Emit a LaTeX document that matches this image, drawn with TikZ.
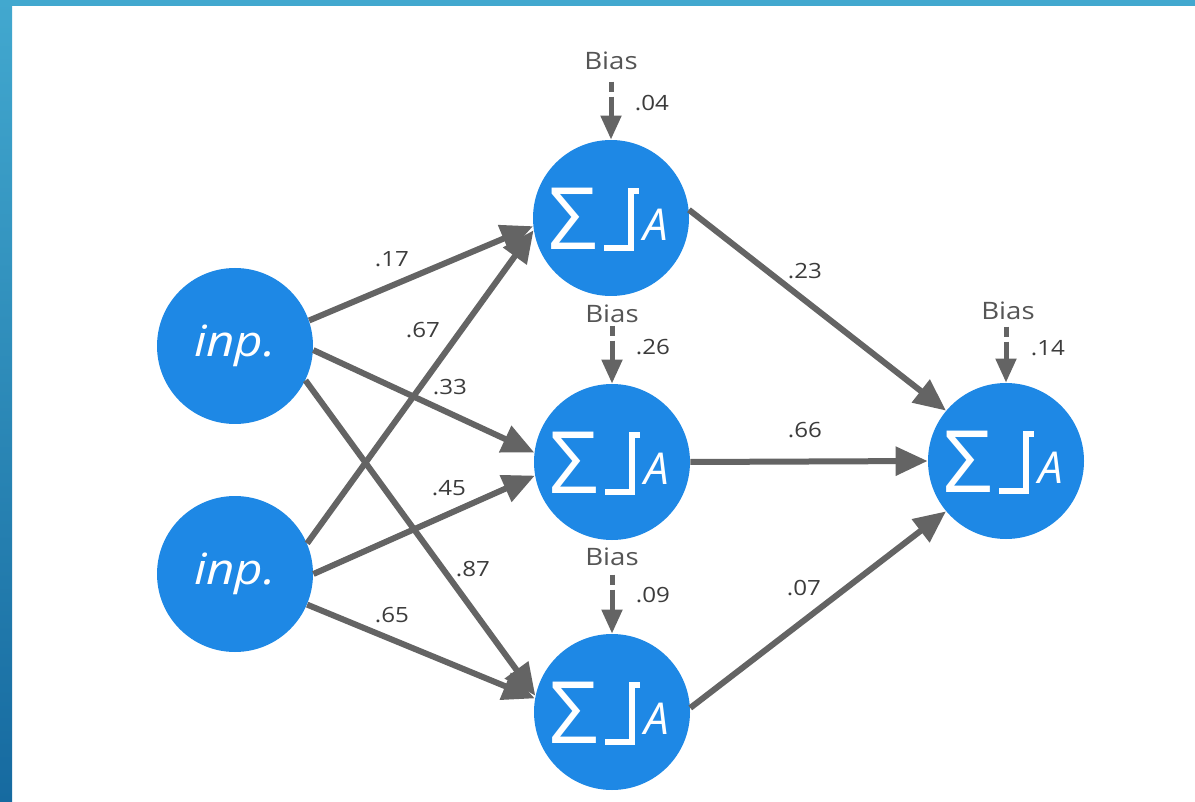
\documentclass[tikz,border=0pt]{standalone}
\usepackage{fontspec}
\setmainfont{Open Sans}
\newfontfamily\lblfont[FakeStretch=1.15]{Open Sans}
\usetikzlibrary{arrows.meta,calc}
\definecolor{nodeblue}{RGB}{30,136,229}
\definecolor{edgegray}{RGB}{100,100,100}
\definecolor{txtgray}{RGB}{60,60,60}
\definecolor{biasgray}{RGB}{85,85,85}
\definecolor{bartop}{RGB}{66,168,207}
\definecolor{barbot}{RGB}{22,106,160}
\tikzset{
  neu/.style={circle,fill=nodeblue,minimum size=78pt,inner sep=0pt},
  inptxt/.style={text=white,font=\lblfont\fontsize{21.5}{22}\selectfont\itshape},
  sig/.style={text=white,inner sep=0pt,font=\fontsize{43}{43}\selectfont},
  actA/.style={text=white,inner sep=0pt,font=\fontsize{22}{22}\selectfont\itshape},
  stepfn/.style={white,line width=3pt,line join=miter},
  wire/.style={edgegray,line width=3pt,-{Triangle[length=16pt,width=14pt]}},
  biasarr/.style={edgegray,line width=2.5pt,dash pattern=on 5pt off 2.5pt on 200pt,-{Triangle[length=12pt,width=10pt]}},
  biaslbl/.style={text=biasgray,inner sep=0pt,font=\lblfont\fontsize{12}{12}\selectfont},
  wlbl/.style={text=txtgray,inner sep=0pt,font=\lblfont\fontsize{10.5}{11}\selectfont},
}
\newcommand\mkneuron[2]{%
  \node[neu] (#1) at #2 {};
  \node[sig] (#1-s) at ($(#1)+(-38,1)$) {Σ};
  \draw[stepfn] ($(#1)+(-7,30)$) -- ++(27,0) -- ++(0,-57) -- ++(8,0);
  \node[actA] (#1-a) at ($(#1)+(45,7)$) {A};
}
\begin{document}
\begin{tikzpicture}[x=0.5pt,y=-0.5pt]
\useasboundingbox (0,0) rectangle (1195,802);
\fill[white] (0,0) rectangle (1195,802);
\fill[bartop] (0,0) rectangle (1195,6);
\shade[top color=bartop,bottom color=barbot] (0,0) rectangle (12,802);

% input nodes
\node[neu,inptxt] (i1) at (235,346) {inp.};
\node[neu,inptxt] (i2) at (235,574) {inp.};
% hidden and output neurons
\mkneuron{h1}{(611,218)}
\mkneuron{h2}{(612,462)}
\mkneuron{h3}{(612,712)}
\mkneuron{o}{(1006,461)}

% connections
\draw[wire] (i1.19) -- (h1.186);
\draw[wire] (i2.23) -- (h1.189);
\draw[wire] (i1.-3) -- (h2.173);
\draw[wire] (i2.0) -- (h2.190);
\draw[wire] (i1.-26) -- (h3.168);
\draw[wire] (i2.-23) -- (h3.170);
\draw[wire] (h1.6) -- (o.140);
\draw[wire] (h2.0) -- (o.180);
\draw[wire] (h3.3) -- (o.220);

% weight labels
\node[wlbl] (w17) at (392,259) {.17};
\node[wlbl] (w67) at (423,330) {.67};
\node[wlbl] (w33) at (450,387) {.33};
\node[wlbl] (w45) at (449,488) {.45};
\node[wlbl] (w87) at (473,569) {.87};
\node[wlbl] (w65) at (392,615) {.65};
\node[wlbl] (w23) at (805,271) {.23};
\node[wlbl] (w66) at (805,430) {.66};
\node[wlbl] (w07) at (804,588) {.07};

% biases
\node[biaslbl] (bl1) at (611,61) {Bias};
\node[biaslbl] (bl2) at (612,314) {Bias};
\node[biaslbl] (bl3) at (612,557) {Bias};
\node[biaslbl] (bl4) at (1008,311) {Bias};
\node[wlbl] (bw1) at (652,103) {.04};
\node[wlbl] (bw2) at (653,347) {.26};
\node[wlbl] (bw3) at (653,595) {.09};
\node[wlbl] (bw4) at (1048,348) {.14};
\coordinate (bs1) at ($(h1.north)+(0,-58)$);
\coordinate (bs2) at ($(h2.north)+(0,-58)$);
\coordinate (bs3) at ($(h3.north)+(0,-59)$);
\coordinate (bs4) at ($(o.north)+(0,-56)$);
\draw[biasarr] (bs1) -- (h1.north);
\draw[biasarr] (bs2) -- (h2.north);
\draw[biasarr] (bs3) -- (h3.north);
\draw[biasarr] (bs4) -- (o.north);
\end{tikzpicture}
\end{document}
